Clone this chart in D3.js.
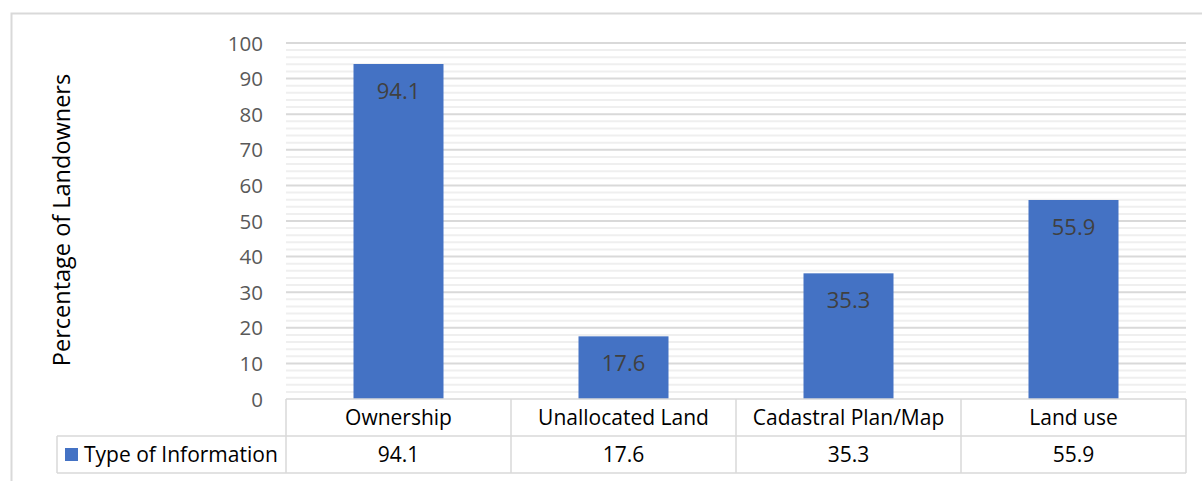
<!DOCTYPE html>
<html>
<head>
<meta charset="utf-8">
<script src="https://cdn.jsdelivr.net/npm/d3@7"></script>
<style>
  html, body { margin: 0; padding: 0; background: #fff; }
  svg { display: block; }
  text { font-family: "Open Sans", "Liberation Sans", sans-serif; }
</style>
</head>
<body>
<svg id="chart" width="1202" height="481"></svg>
<script>
const categories = ["Ownership", "Unallocated Land", "Cadastral Plan/Map", "Land use"];
const values = [94.1, 17.6, 35.3, 55.9];
const seriesName = "Type of Information";
const yTicks = [0, 10, 20, 30, 40, 50, 60, 70, 80, 90, 100];
const minorTicks = d3.range(0, 101, 2);
const yTitle = "Percentage of Landowners";

const svg = d3.select("#chart");
const W = 1202, H = 481;
const plot = { left: 286, right: 1186, top: 43, bottom: 399 };
const rowH = 37;
const legendLeft = 57;
const barColor = "#4472c4";
const gridMajor = "#d9d9d9";
const gridMinor = "#efefef";
const tickFont = 20.5, tableFont = 21, labelFont = 22, titleFont = 23.5;

// outer chart border
svg.append("rect")
  .attr("x", 11.5).attr("y", 13.5)
  .attr("width", W + 20).attr("height", H + 20)
  .attr("fill", "none").attr("stroke", "#d9d9d9").attr("stroke-width", 2);

const x = d3.scaleBand().domain(categories).range([plot.left, plot.right])
  .paddingInner(0.6).paddingOuter(0.3);
const y = d3.scaleLinear().domain([0, 100]).range([plot.bottom, plot.top]);

// minor gridlines
svg.append("g").selectAll("line")
  .data(minorTicks.filter(d => d % 10 !== 0))
  .join("line")
  .attr("x1", plot.left).attr("x2", plot.right)
  .attr("y1", d => y(d)).attr("y2", d => y(d))
  .attr("stroke", gridMinor).attr("stroke-width", 2);

// major gridlines
svg.append("g").selectAll("line")
  .data(yTicks.filter(d => d !== 0))
  .join("line")
  .attr("x1", plot.left).attr("x2", plot.right)
  .attr("y1", d => y(d)).attr("y2", d => y(d))
  .attr("stroke", gridMajor).attr("stroke-width", 2);

// y axis labels
const yAxis = d3.axisLeft(y).tickValues(yTicks).tickSize(0).tickPadding(0);
const gy = svg.append("g").attr("transform", `translate(263,0)`).call(yAxis);
gy.select(".domain").remove();
gy.selectAll("text")
  .attr("font-family", "Open Sans, Liberation Sans, sans-serif")
  .attr("font-size", tickFont).attr("fill", "#595959")
  .attr("dy", "0.35em");

// y title
svg.append("text")
  .attr("transform", `translate(62,${(plot.top + plot.bottom) / 2 - 1}) rotate(-90)`)
  .attr("text-anchor", "middle").attr("dy", "0.35em")
  .attr("font-size", titleFont).attr("fill", "#000")
  .text(yTitle);

// bars
svg.append("g").selectAll("rect")
  .data(values)
  .join("rect")
  .attr("x", (d, i) => x(categories[i]))
  .attr("width", x.bandwidth())
  .attr("y", d => y(d))
  .attr("height", d => y(0) - y(d))
  .attr("fill", barColor);

// data labels
svg.append("g").selectAll("text")
  .data(values)
  .join("text")
  .attr("x", (d, i) => x(categories[i]) + x.bandwidth() / 2)
  .attr("y", d => y(d) + 27)
  .attr("dy", "0.35em")
  .attr("text-anchor", "middle")
  .attr("font-size", labelFont).attr("fill", "#404040")
  .text(d => d.toFixed(1));

// data table
const tb = svg.append("g").attr("stroke", "#d9d9d9").attr("stroke-width", 1.5).attr("fill", "none");
const r0 = plot.bottom, r1 = plot.bottom + rowH, r2 = plot.bottom + 2 * rowH;
tb.append("line").attr("x1", plot.left).attr("x2", plot.right).attr("y1", r0).attr("y2", r0);
tb.append("line").attr("x1", legendLeft).attr("x2", plot.right).attr("y1", r1).attr("y2", r1);
tb.append("line").attr("x1", legendLeft).attr("x2", plot.right).attr("y1", r2).attr("y2", r2);
tb.append("line").attr("x1", legendLeft).attr("x2", legendLeft).attr("y1", r1).attr("y2", r2);
const step = x.step();
const colEdges = categories.map(c => x(c) + x.bandwidth() / 2 - step / 2).concat([plot.right]);
tb.selectAll("line.v").data(colEdges).join("line").attr("class", "v")
  .attr("x1", d => d).attr("x2", d => d).attr("y1", r0).attr("y2", r2);

// category labels
svg.append("g").selectAll("text")
  .data(categories).join("text")
  .attr("x", d => x(d) + x.bandwidth() / 2)
  .attr("y", (r0 + r1) / 2).attr("dy", "0.35em")
  .attr("text-anchor", "middle").attr("font-size", tableFont).attr("fill", "#000")
  .text(d => d);

// value row
svg.append("g").selectAll("text")
  .data(values).join("text")
  .attr("x", (d, i) => x(categories[i]) + x.bandwidth() / 2)
  .attr("y", (r1 + r2) / 2).attr("dy", "0.35em")
  .attr("text-anchor", "middle").attr("font-size", tableFont).attr("fill", "#000")
  .text(d => d.toFixed(1));

// legend key
svg.append("rect").attr("x", 65).attr("y", (r1 + r2) / 2 - 6.5)
  .attr("width", 13).attr("height", 13).attr("fill", barColor);
svg.append("text").attr("x", 84).attr("y", (r1 + r2) / 2).attr("dy", "0.35em")
  .attr("font-size", tableFont).attr("fill", "#000").text(seriesName);
</script>
</body>
</html>
